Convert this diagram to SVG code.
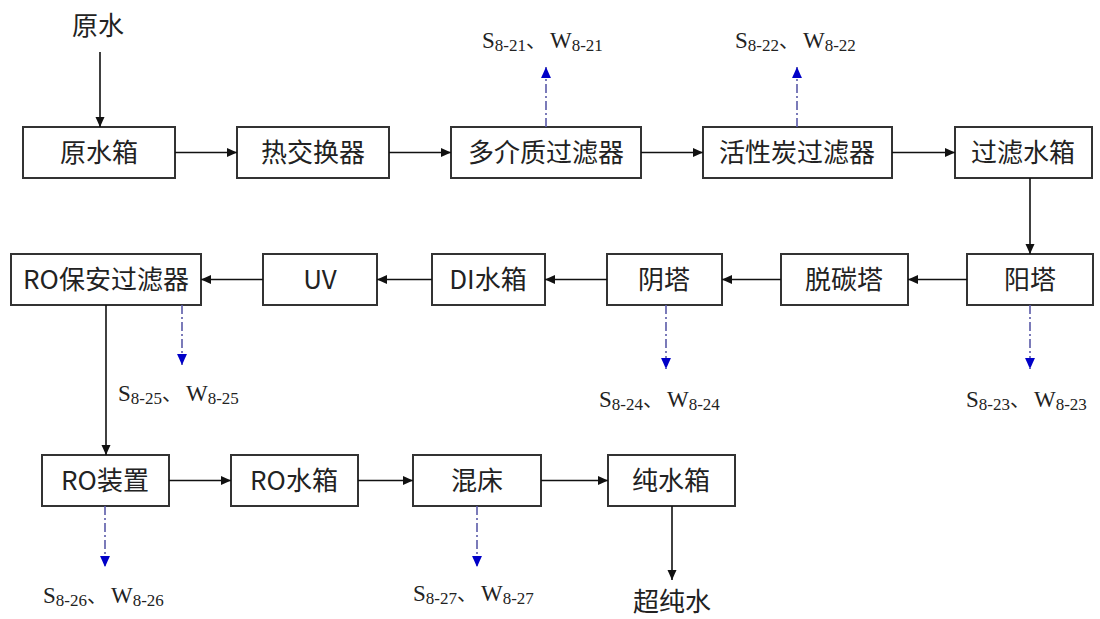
<svg xmlns="http://www.w3.org/2000/svg" width="1100" height="619" viewBox="0 0 1100 619">
<style>
.box{fill:#fff;stroke:#333;stroke-width:2}
.lbl{font-family:"Noto Sans CJK SC","Microsoft YaHei",sans-serif;font-size:26px;fill:#222;text-anchor:middle}
.flow{stroke:#111;stroke-width:1.6;fill:none}
.waste{stroke:#5a5aa8;stroke-width:1.6;fill:none;stroke-dasharray:9,3,2,3}
.sw{font-family:"Liberation Serif","Noto Sans CJK SC",serif;font-size:23px;fill:#222}
.sub{font-size:17px}
.dun{font-family:"Noto Sans CJK SC",sans-serif;font-size:20px}
</style>
<defs>
<marker id="ah" viewBox="0 0 10 10" refX="10" refY="5" markerWidth="10" markerHeight="10" markerUnits="userSpaceOnUse" orient="auto"><path d="M0,0.5 L10,5 L0,9.5 Z" fill="#111"/></marker>
<marker id="bh" viewBox="0 0 10 10" refX="10" refY="5" markerWidth="11" markerHeight="11" markerUnits="userSpaceOnUse" orient="auto"><path d="M0,0.5 L10,5 L0,9.5 Z" fill="#0000c8"/></marker>
</defs>
<rect width="1100" height="619" fill="#fff"/>
<text class="lbl" x="98" y="35">原水</text>
<g id="n1"><rect class="box" x="23" y="127" width="152" height="51"/><text class="lbl" x="99" y="162">原水箱</text></g>
<g id="n2"><rect class="box" x="237" y="127" width="152" height="51"/><text class="lbl" x="313" y="162">热交换器</text></g>
<g id="n3"><rect class="box" x="451" y="127" width="190" height="51"/><text class="lbl" x="546" y="162">多介质过滤器</text></g>
<g id="n4"><rect class="box" x="703" y="127" width="189" height="51"/><text class="lbl" x="797" y="162">活性炭过滤器</text></g>
<g id="n5"><rect class="box" x="955" y="127" width="137" height="51"/><text class="lbl" x="1023" y="162">过滤水箱</text></g>
<g id="n6"><rect class="box" x="967" y="254" width="126" height="51"/><text class="lbl" x="1030" y="289">阳塔</text></g>
<g id="n7"><rect class="box" x="781" y="254" width="127" height="51"/><text class="lbl" x="844" y="289">脱碳塔</text></g>
<g id="n8"><rect class="box" x="607" y="254" width="115" height="51"/><text class="lbl" x="664" y="289">阴塔</text></g>
<g id="n9"><rect class="box" x="432" y="254" width="113" height="51"/><text class="lbl" x="488" y="289">DI水箱</text></g>
<g id="n10"><rect class="box" x="263" y="254" width="114" height="51"/><text class="lbl" x="320" y="289">UV</text></g>
<g id="n11"><rect class="box" x="11" y="254" width="190" height="51"/><text class="lbl" x="106" y="289">RO保安过滤器</text></g>
<g id="n12"><rect class="box" x="42" y="455" width="127" height="51"/><text class="lbl" x="105" y="490">RO装置</text></g>
<g id="n13"><rect class="box" x="231" y="455" width="127" height="51"/><text class="lbl" x="294" y="490">RO水箱</text></g>
<g id="n14"><rect class="box" x="413" y="455" width="128" height="51"/><text class="lbl" x="477" y="490">混床</text></g>
<g id="n15"><rect class="box" x="608" y="455" width="127" height="51"/><text class="lbl" x="671" y="490">纯水箱</text></g>
<text class="lbl" x="672" y="611">超纯水</text>
<g id="connectors">
<line class="flow" x1="100" y1="52" x2="100" y2="127" marker-end="url(#ah)"/>
<line class="flow" x1="175" y1="152.5" x2="237" y2="152.5" marker-end="url(#ah)"/>
<line class="flow" x1="389" y1="152.5" x2="451" y2="152.5" marker-end="url(#ah)"/>
<line class="flow" x1="641" y1="152.5" x2="703" y2="152.5" marker-end="url(#ah)"/>
<line class="flow" x1="892" y1="152.5" x2="955" y2="152.5" marker-end="url(#ah)"/>
<line class="flow" x1="1030" y1="178" x2="1030" y2="254" marker-end="url(#ah)"/>
<line class="flow" x1="967" y1="279.5" x2="908" y2="279.5" marker-end="url(#ah)"/>
<line class="flow" x1="781" y1="279.5" x2="722" y2="279.5" marker-end="url(#ah)"/>
<line class="flow" x1="607" y1="279.5" x2="545" y2="279.5" marker-end="url(#ah)"/>
<line class="flow" x1="432" y1="279.5" x2="377" y2="279.5" marker-end="url(#ah)"/>
<line class="flow" x1="263" y1="279.5" x2="201" y2="279.5" marker-end="url(#ah)"/>
<line class="flow" x1="106" y1="305" x2="106" y2="455" marker-end="url(#ah)"/>
<line class="flow" x1="169" y1="480.5" x2="231" y2="480.5" marker-end="url(#ah)"/>
<line class="flow" x1="358" y1="480.5" x2="413" y2="480.5" marker-end="url(#ah)"/>
<line class="flow" x1="541" y1="480.5" x2="608" y2="480.5" marker-end="url(#ah)"/>
<line class="flow" x1="672" y1="506" x2="672" y2="580" marker-end="url(#ah)"/>
<line class="waste" x1="546" y1="127" x2="546" y2="67" marker-end="url(#bh)"/>
<line class="waste" x1="797" y1="127" x2="797" y2="67" marker-end="url(#bh)"/>
<line class="waste" x1="1030" y1="305" x2="1030" y2="369" marker-end="url(#bh)"/>
<line class="waste" x1="666" y1="305" x2="666" y2="369" marker-end="url(#bh)"/>
<line class="waste" x1="182" y1="305" x2="182" y2="365" marker-end="url(#bh)"/>
<line class="waste" x1="105" y1="506" x2="105" y2="567" marker-end="url(#bh)"/>
<line class="waste" x1="477" y1="506" x2="477" y2="567" marker-end="url(#bh)"/>
</g>
<text class="sw" x="482" y="48">S<tspan class="sub" dy="3">8-21</tspan><tspan class="dun" dy="-3">、</tspan><tspan dx="4">W</tspan><tspan class="sub" dy="3">8-21</tspan></text>
<text class="sw" x="735" y="48">S<tspan class="sub" dy="3">8-22</tspan><tspan class="dun" dy="-3">、</tspan><tspan dx="4">W</tspan><tspan class="sub" dy="3">8-22</tspan></text>
<text class="sw" x="966" y="407">S<tspan class="sub" dy="3">8-23</tspan><tspan class="dun" dy="-3">、</tspan><tspan dx="4">W</tspan><tspan class="sub" dy="3">8-23</tspan></text>
<text class="sw" x="599" y="407">S<tspan class="sub" dy="3">8-24</tspan><tspan class="dun" dy="-3">、</tspan><tspan dx="4">W</tspan><tspan class="sub" dy="3">8-24</tspan></text>
<text class="sw" x="118" y="401">S<tspan class="sub" dy="3">8-25</tspan><tspan class="dun" dy="-3">、</tspan><tspan dx="4">W</tspan><tspan class="sub" dy="3">8-25</tspan></text>
<text class="sw" x="43" y="603">S<tspan class="sub" dy="3">8-26</tspan><tspan class="dun" dy="-3">、</tspan><tspan dx="4">W</tspan><tspan class="sub" dy="3">8-26</tspan></text>
<text class="sw" x="413" y="601">S<tspan class="sub" dy="3">8-27</tspan><tspan class="dun" dy="-3">、</tspan><tspan dx="4">W</tspan><tspan class="sub" dy="3">8-27</tspan></text>
</svg>
